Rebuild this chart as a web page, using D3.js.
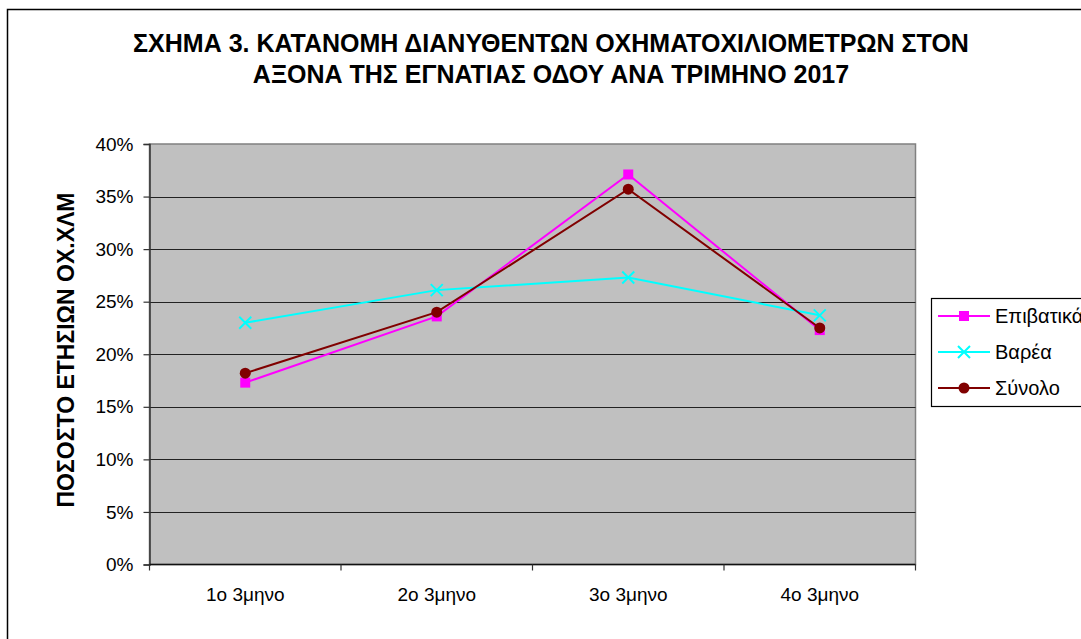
<!DOCTYPE html>
<html>
<head>
<meta charset="utf-8">
<script src="https://cdn.jsdelivr.net/npm/d3@7"></script>
<style>
  body { margin: 0; background: #fff; }
  svg { display: block; font-family: "Liberation Sans", Arial, sans-serif; }
</style>
</head>
<body>
<div class="wrapper"></div>
<script>
const quarters = ["1ο 3μηνο", "2ο 3μηνο", "3ο 3μηνο", "4ο 3μηνο"];
const epivatika = [17.3, 23.6, 37.1, 22.3];
const varea = [23.0, 26.1, 27.3, 23.7];
const synolo = [18.2, 24.0, 35.7, 22.5];
const yTicks = [0, 5, 10, 15, 20, 25, 30, 35, 40];

const series = [
  { name: "Επιβατικά", values: epivatika, color: "#ff00ff", marker: "square" },
  { name: "Βαρέα", values: varea, color: "#00ffff", marker: "cross" },
  { name: "Σύνολο", values: synolo, color: "#800000", marker: "circle" }
];

const width = 1081, height = 639;
const plot = { left: 149.5, top: 144, right: 915.5, bottom: 564.5 };

const svg = d3.select(".wrapper").append("svg")
  .attr("width", width)
  .attr("height", height);

// outer frame (runs off the right and bottom edges)
svg.append("rect")
  .attr("x", 7.5).attr("y", 9.5)
  .attr("width", width + 20).attr("height", height + 20)
  .attr("fill", "none").attr("stroke", "#000").attr("stroke-width", 1.5);

// title
const title = svg.append("text")
  .attr("x", 551).attr("text-anchor", "middle")
  .style("font-size", "25px").style("font-weight", "bold");
title.append("tspan").attr("x", 551).attr("y", 52)
  .text("ΣΧΗΜΑ 3. ΚΑΤΑΝΟΜΗ ΔΙΑΝΥΘΕΝΤΩΝ ΟΧΗΜΑΤΟΧΙΛΙΟΜΕΤΡΩΝ ΣΤΟΝ");
title.append("tspan").attr("x", 551).attr("y", 83)
  .text("ΑΞΟΝΑ ΤΗΣ ΕΓΝΑΤΙΑΣ ΟΔΟΥ ΑΝΑ ΤΡΙΜΗΝΟ 2017");

const x = d3.scaleBand().domain(quarters).range([plot.left, plot.right]);
const y = d3.scaleLinear().domain([0, 40]).range([plot.bottom, plot.top]);

// plot area
svg.append("rect")
  .attr("x", plot.left).attr("y", plot.top)
  .attr("width", plot.right - plot.left).attr("height", plot.bottom - plot.top)
  .attr("fill", "#c0c0c0").attr("stroke", "#808080").attr("stroke-width", 1.5);

// gridlines
svg.append("g").selectAll("line")
  .data(yTicks.filter(d => d > 0 && d < 40))
  .enter().append("line")
  .attr("x1", plot.left).attr("x2", plot.right)
  .attr("y1", d => Math.round(y(d)) + 0.5).attr("y2", d => Math.round(y(d)) + 0.5)
  .attr("stroke", "#222").attr("stroke-width", 1.2);

// y axis
const yAxis = svg.append("g")
  .attr("transform", "translate(" + plot.left + ",0)")
  .call(d3.axisLeft(y).tickValues(yTicks).tickSize(6).tickPadding(10)
    .tickFormat(d => d + "%"));
yAxis.select(".domain").attr("stroke", "#333").attr("stroke-width", 1.5);
yAxis.selectAll(".tick line").attr("stroke", "#333").attr("stroke-width", 1.2);
yAxis.selectAll("text").style("font-size", "19px").style("font-family", "Liberation Sans, Arial, sans-serif").attr("fill", "#000");

// x axis with ticks at category boundaries
const xAxis = svg.append("g")
  .attr("transform", "translate(0," + plot.bottom + ")");
xAxis.append("line")
  .attr("x1", plot.left).attr("x2", plot.right)
  .attr("stroke", "#111").attr("stroke-width", 1.5);
const bounds = quarters.map(q => x(q)).concat([plot.right]);
xAxis.selectAll(".xtick").data(bounds).enter().append("line")
  .attr("class", "xtick")
  .attr("x1", d => d).attr("x2", d => d)
  .attr("y1", 0).attr("y2", 6)
  .attr("stroke", "#333").attr("stroke-width", 1.2);
xAxis.selectAll(".xlabel").data(quarters).enter().append("text")
  .attr("class", "xlabel")
  .attr("x", d => x(d) + x.bandwidth() / 2)
  .attr("y", 36)
  .attr("text-anchor", "middle")
  .style("font-size", "19px")
  .text(d => d);

// y axis title
svg.append("text")
  .attr("transform", "translate(74,350) rotate(-90)")
  .attr("text-anchor", "middle")
  .style("font-size", "23px").style("font-weight", "bold")
  .text("ΠΟΣΟΣΤΟ ΕΤΗΣΙΩΝ ΟΧ.ΧΛΜ");

function drawMarker(g, type, color) {
  if (type === "square") {
    g.append("rect").attr("x", -5).attr("y", -5).attr("width", 10).attr("height", 10)
      .attr("fill", color);
  } else if (type === "circle") {
    g.append("circle").attr("r", 5.5).attr("fill", color);
  } else {
    g.append("path").attr("d", "M-6,-6L6,6M-6,6L6,-6")
      .attr("stroke", color).attr("stroke-width", 2).attr("fill", "none");
  }
}

const line = d3.line()
  .x((d, i) => x(quarters[i]) + x.bandwidth() / 2)
  .y(d => y(d));

const lines = svg.append("g").selectAll("g")
  .data(series).enter().append("g");

lines.append("path")
  .attr("d", d => line(d.values))
  .attr("fill", "none")
  .attr("stroke", d => d.color)
  .attr("stroke-width", 2);

lines.each(function (s) {
  d3.select(this).selectAll(".pt").data(s.values).enter().append("g")
    .attr("class", "pt")
    .attr("transform", (d, i) => "translate(" + (x(quarters[i]) + x.bandwidth() / 2) + "," + y(d) + ")")
    .each(function () { drawMarker(d3.select(this), s.marker, s.color); });
});

// legend
const legend = svg.append("g").attr("transform", "translate(931,298)");
legend.append("rect")
  .attr("x", 0.5).attr("y", 0.5).attr("width", 200).attr("height", 108)
  .attr("fill", "#fff").attr("stroke", "#000").attr("stroke-width", 1.2);
const items = legend.selectAll(".item").data(series).enter().append("g")
  .attr("class", "item")
  .attr("transform", (d, i) => "translate(0," + (18 + i * 36) + ")");
items.append("line")
  .attr("x1", 7).attr("x2", 59)
  .attr("stroke", d => d.color).attr("stroke-width", 2);
items.each(function (d) {
  const m = d3.select(this).append("g").attr("transform", "translate(33,0)");
  drawMarker(m, d.marker, d.color);
});
items.append("text")
  .attr("x", 64).attr("y", 7)
  .style("font-size", "20px")
  .text(d => d.name);
</script>
</body>
</html>
